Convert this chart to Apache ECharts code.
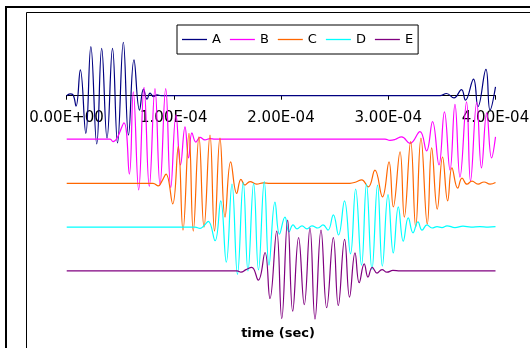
<!DOCTYPE html>
<html><head><meta charset="utf-8">
<script src="https://cdn.jsdelivr.net/npm/echarts@6/dist/echarts.min.js"></script>
<style>html,body{margin:0;padding:0;background:#fff}#c{width:530px;height:348px}</style>
</head><body><div id="c"></div>
<script>
const seriesNames = ['A','B','C','D','E'];
const seriesColors = ['#000080','#FF00FF','#FF6600','#00FFFF','#800080'];
const xTickLabels = ['0.00E+00','1.00E-04','2.00E-04','3.00E-04','4.00E-04'];
const xTitle = 'time (sec)';

// time in microseconds, values in offset units
const tA = [0.2,3.3,6.1,8.9,12.9,18.0,22.7,28.2,32.8,37.8,42.9,47.6,53.0,57.8,62.9,68.1,71.8,75.1,77.9,81.1,84.4,88.1,348.3,354.3,361.3,368.3,372.0,379.5,383.7,391.1,394.9,400.0];
const vA = [0,0.04,0.02,-0.24,0.59,-0.86,1.12,-1.10,1.08,-0.97,1.08,-1.08,1.22,-0.90,0.82,-0.33,0.15,-0.08,0.06,-0.02,0.02,0,0,0.05,-0.05,0.14,-0.10,0.38,-0.25,0.60,-0.33,0.20];

const tB = [0.2,40.6,43.4,47.1,53.6,58.6,62.3,67.3,72.3,77.2,82.5,87.2,92.5,97.2,102.1,106.3,110.5,113.8,117.0,120.7,124.5,129.1,133.8,138.5,297.0,301.6,306.3,312.5,320.3,329.6,335.7,341.3,347.3,352.4,357.6,362.2,366.9,373.0,376.7,382.5,386.9,391.8,396.3,400.0];
const vB = [-0.99,-0.99,-1.05,-0.97,-0.62,-1.79,0.09,-2.15,0.19,-2.07,0.16,-2.03,0.16,-2.10,-0.44,-1.58,-0.71,-1.42,-0.85,-1.06,-0.95,-1.01,-0.98,-0.99,-0.99,-1.02,-1.00,-0.94,-1.09,-0.82,-1.26,-0.59,-1.58,-0.37,-1.70,-0.20,-1.86,-0.14,-1.95,-0.15,-1.65,-0.39,-1.42,-0.94];

const tC = [0.2,80.7,85.6,89.0,92.8,99.0,104.2,108.6,114.2,118.2,123.5,128.2,133.8,138.0,143.1,147.8,153.1,158.7,162.7,166.4,171.1,177.3,183.5,189.7,264.3,269.9,275.2,281.4,287.6,294.6,300.7,304.7,311.0,315.0,320.9,325.6,330.5,336.4,340.5,345.7,350.6,355.4,359.4,364.8,368.8,373.4,378.1,383.7,389.3,394.9,400.0];
const vC = [-2.00,-2.00,-2.06,-1.95,-1.79,-2.47,-1.16,-3.07,-0.86,-3.09,-0.94,-3.00,-0.90,-3.09,-0.97,-2.77,-1.51,-2.23,-1.91,-2.04,-1.96,-2.02,-1.99,-2.00,-2.00,-1.97,-1.92,-2.08,-1.70,-2.31,-1.51,-2.54,-1.28,-2.77,-1.05,-3.00,-0.97,-2.93,-1.19,-2.59,-1.40,-2.40,-1.65,-2.11,-1.88,-2.02,-1.95,-2.02,-1.97,-2.02,-1.98];

const tD = [0.2,119.8,124.5,128.2,132.2,138.5,143.8,149.0,154.3,159.4,164.8,169.2,174.5,179.0,184.4,188.8,194.4,198.6,203.7,207.5,211.2,214.9,219.6,224.2,228.9,234.5,239.2,243.8,248.8,253.6,259.2,264.8,269.6,275.1,279.7,284.8,290.0,294.5,299.8,304.7,309.4,314.0,318.7,323.1,327.7,331.5,336.1,340.8,345.5,350.1,354.8,362.2,369.7,377.2,385.5,393.0,400.0];
const vD = [-3.00,-3.00,-3.03,-2.97,-2.87,-3.31,-2.40,-3.80,-2.02,-4.08,-1.98,-4.00,-2.00,-3.98,-1.96,-3.87,-2.43,-3.16,-2.77,-3.11,-2.95,-3.04,-2.97,-3.04,-2.97,-3.02,-2.95,-3.07,-2.72,-3.18,-2.40,-3.61,-2.13,-3.87,-2.02,-3.97,-2.04,-3.89,-2.26,-3.59,-2.54,-3.32,-2.79,-3.13,-2.88,-3.07,-2.95,-3.02,-2.99,-3.01,-2.97,-3.01,-2.98,-3.00,-2.99,-3.00,-2.99];

const tE = [0.2,159.0,162.7,167.4,172.7,178.8,185.1,189.7,196.0,200.7,206.2,210.9,216.4,221.7,227.0,231.7,237.3,242.6,248.8,253.4,259.3,263.9,269.0,272.9,277.6,281.1,285.1,289.5,294.2,298.8,304.4,311.0,400.0];
const vE = [-4.00,-4.00,-4.03,-3.97,-3.92,-4.21,-3.58,-4.63,-3.09,-5.09,-2.84,-4.92,-3.24,-4.77,-3.02,-5.10,-3.07,-4.84,-3.24,-4.79,-3.28,-4.60,-3.59,-4.27,-3.84,-4.14,-3.92,-4.05,-3.97,-4.03,-3.99,-4.00,-4.00];

const times = [tA,tB,tC,tD,tE];
const values = [vA,vB,vC,vD,vE];
const FONT = '"DejaVu Sans", Verdana, sans-serif';
const Y_MIN = -5.7, Y_MAX = 1.9, GRID_TOP = 12.48, GRID_BOTTOM = 2.64, H = 348;

const chart = echarts.init(document.getElementById('c'), null, {renderer:'canvas'});
// place the x axis on the value 0 of the y scale
const plotH = H - GRID_TOP - GRID_BOTTOM;
const zeroOffset = -plotH * (0 - Y_MIN) / (Y_MAX - Y_MIN);
chart.setOption({
  animation: false,
  backgroundColor: '#fff',
  grid: {left: 66.5, right: 34.5, top: GRID_TOP, bottom: GRID_BOTTOM, containLabel: false, outerBoundsMode: 'none'},
  legend: {
    data: seriesNames.map(function (n) { return {name: n, icon: 'rect'}; }),
    left: 177, top: 25,
    orient: 'horizontal',
    itemWidth: 25, itemHeight: 1.3, itemGap: 9,
    padding: [7, 5, 7, 5],
    borderColor: '#000', borderWidth: 1, backgroundColor: '#fff',
    textStyle: {fontFamily: FONT, fontSize: 13, color: '#000', lineHeight: 15}
  },
  xAxis: {
    type: 'value', min: 0, max: 400, interval: 100,
    position: 'bottom', offset: zeroOffset,
    axisLine: {show: true, onZero: false, lineStyle: {color: '#000', width: 1}},
    axisTick: {show: true, length: 4, lineStyle: {color: '#000'}},
    splitLine: {show: false},
    axisLabel: {
      show: true, fontFamily: FONT, fontSize: 15, color: '#000', margin: 15,
      formatter: function (v) { return xTickLabels[Math.round(v / 100)]; }
    }
  },
  yAxis: {
    type: 'value', min: Y_MIN, max: Y_MAX,
    axisLine: {show: false, onZero: false}, axisTick: {show: false}, axisLabel: {show: false}, splitLine: {show: false}
  },
  series: seriesNames.map(function (n, i) {
    return {
      name: n, type: 'line', symbol: 'none', smooth: 0.45,
      color: seriesColors[i],
      itemStyle: {color: seriesColors[i]},
      lineStyle: {width: 1.2, color: seriesColors[i]},
      data: times[i].map(function (t, j) { return [t, values[i][j]]; })
    };
  }),
  graphic: [
    {type: 'rect', shape: {x: 6, y: 7, width: 700, height: 700}, style: {fill: 'none', stroke: '#000', lineWidth: 2}, silent: true, z: -1},
    {type: 'rect', shape: {x: 26.5, y: 12.5, width: 700, height: 700}, style: {fill: 'none', stroke: '#000', lineWidth: 1}, silent: true, z: -1},
    {type: 'text', x: 278, y: 334, style: {text: xTitle, font: 'bold 13px ' + FONT, fill: '#000', align: 'center', verticalAlign: 'middle'}, silent: true}
  ]
});
</script>
</body></html>
